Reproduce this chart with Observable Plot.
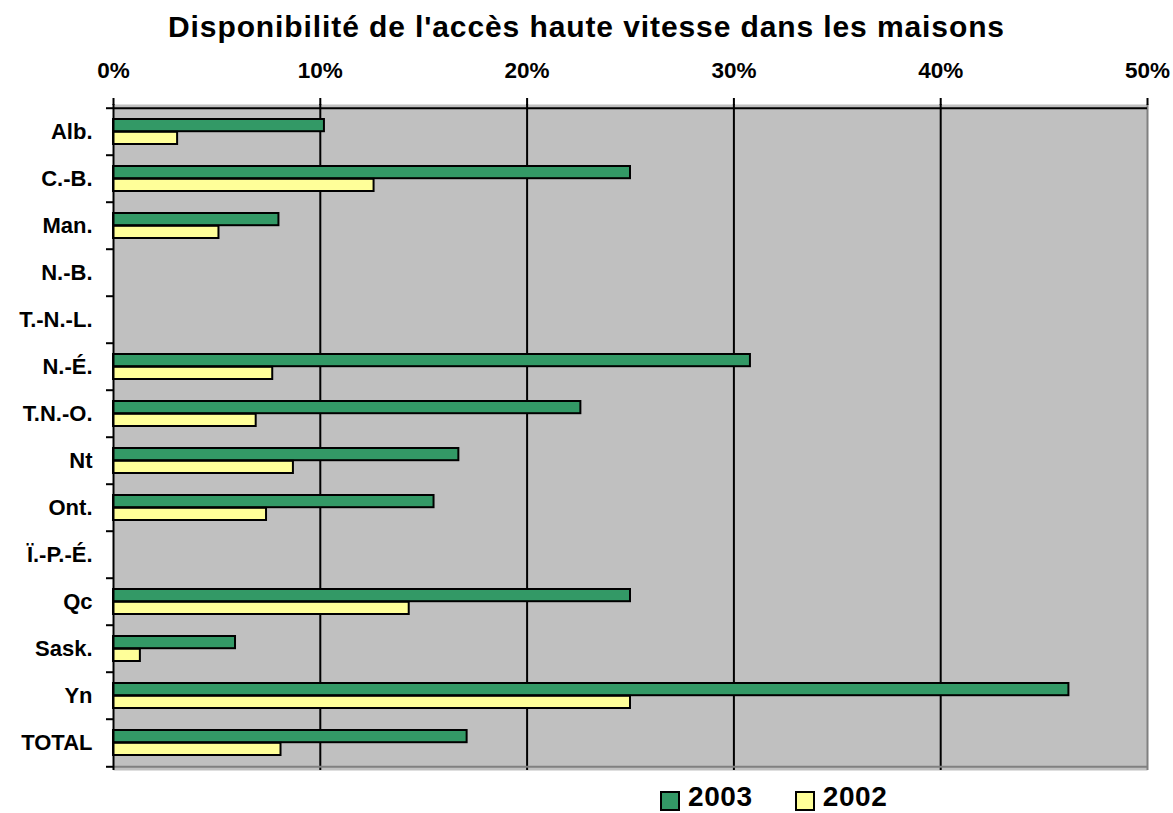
<!DOCTYPE html>
<html>
<head>
<meta charset="utf-8">
<script src="https://cdn.jsdelivr.net/npm/d3@7"></script>
<script src="https://cdn.jsdelivr.net/npm/@observablehq/plot@0.6"></script>
<style>
  html, body { margin: 0; padding: 0; background: white; }
  #wrap { position: relative; width: 1173px; height: 813px; font-family: Arial, "Liberation Sans", sans-serif; overflow: hidden; }
  #title { position: absolute; left: 0; top: 10px; width: 1173px; text-align: center; font-size: 30px; letter-spacing: 0.9px; font-weight: bold; line-height: 34px; color: black; }
  #legend { position: absolute; left: 660px; top: 786px; display: flex; align-items: center; font-size: 28px; letter-spacing: 0.6px; font-weight: bold; line-height: 22px; height: 22px; }
  .item { display: flex; align-items: center; margin-right: 42px; }
  .sw { width: 20px; height: 20px; box-sizing: border-box; border: 2px solid black; margin-right: 8px; position: relative; top: 4px; }
  #chart { position: absolute; left: 0; top: 0; }
  svg text { font-weight: bold; }
</style>
</head>
<body>
<div id="wrap">
  <div id="chart"></div>
  <div id="title">Disponibilité de l'accès haute vitesse dans les maisons</div>
  <div id="legend"></div>
</div>
<script>
const categories = ["Alb.", "C.-B.", "Man.", "N.-B.", "T.-N.-L.", "N.-É.", "T.N.-O.", "Nt", "Ont.", "Ï.-P.-É.", "Qc", "Sask.", "Yn", "TOTAL"];
const values2003 = [10.2, 25.0, 8.0, null, null, 30.8, 22.6, 16.7, 15.5, null, 25.0, 5.9, 46.2, 17.1];
const values2002 = [3.1, 12.6, 5.1, null, null, 7.7, 6.9, 8.7, 7.4, null, 14.3, 1.3, 25.0, 8.1];
const years = ["2003", "2002"];
const colors = ["#339966", "#FFFF99"];
const xTicks = [0, 10, 20, 30, 40, 50];

const data = categories.map((c, i) => ({cat: c, v2003: values2003[i], v2002: values2002[i]}));

const W = 1173, H = 813, mT = 104, mB = 43, mL = 113, mR = 26;
const bw = (H - mT - mB) / categories.length;

const chart = Plot.plot({
  width: W,
  height: H,
  marginTop: mT,
  marginBottom: mB,
  marginLeft: mL,
  marginRight: mR,
  style: {fontFamily: 'Arial, "Liberation Sans", sans-serif', fontWeight: "bold", color: "black", background: "white"},
  x: {domain: [0, 50], axis: null},
  y: {domain: categories, type: "band", padding: 0, axis: null},
  marks: [
    Plot.frame({fill: "#c0c0c0", stroke: null}),
    Plot.gridX({ticks: [10, 20, 30, 40], stroke: "black", strokeOpacity: 1, strokeWidth: 2}),
    Plot.ruleX([50], {stroke: "#808080", strokeWidth: 2}),
    Plot.ruleY([categories[categories.length - 1]], {stroke: "#808080", strokeWidth: 2, dy: bw / 2}),
    Plot.barX(data, {x: "v2003", y: "cat", fill: colors[0], stroke: "black", strokeWidth: 2, insetTop: 11, insetBottom: 23.8, filter: d => d.v2003 != null}),
    Plot.barX(data, {x: "v2002", y: "cat", fill: colors[1], stroke: "black", strokeWidth: 2, insetTop: 23.8, insetBottom: 11, filter: d => d.v2002 != null}),
    Plot.ruleY([categories[0]], {stroke: "black", strokeWidth: 2, dy: -bw / 2}),
    Plot.ruleX([0], {stroke: "black", strokeWidth: 2}),
    Plot.axisX({anchor: "top", ticks: xTicks, tickFormat: d => d + "%", tickSize: 7, tickPadding: 20, fontSize: 22.5, fontWeight: "bold", strokeWidth: 2, label: null}),
    Plot.axisY({anchor: "left", ticks: categories, tickSize: 7, tickFormat: () => "", strokeWidth: 2, dy: -bw / 2, label: null}),
    Plot.axisY({anchor: "left", ticks: [categories[categories.length - 1]], tickSize: 7, tickFormat: () => "", strokeWidth: 2, dy: bw / 2, label: null}),
    Plot.axisY({anchor: "left", ticks: categories, tickSize: 0, tickPadding: 21, fontSize: 22, fontWeight: "bold", label: null})
  ]
});
document.getElementById("chart").appendChild(chart);

const legend = document.getElementById("legend");
years.forEach((y, i) => {
  const item = document.createElement("div");
  item.className = "item";
  const sw = document.createElement("div");
  sw.className = "sw";
  sw.style.background = colors[i];
  const t = document.createElement("span");
  t.textContent = y;
  item.appendChild(sw);
  item.appendChild(t);
  legend.appendChild(item);
});
</script>
</body>
</html>
